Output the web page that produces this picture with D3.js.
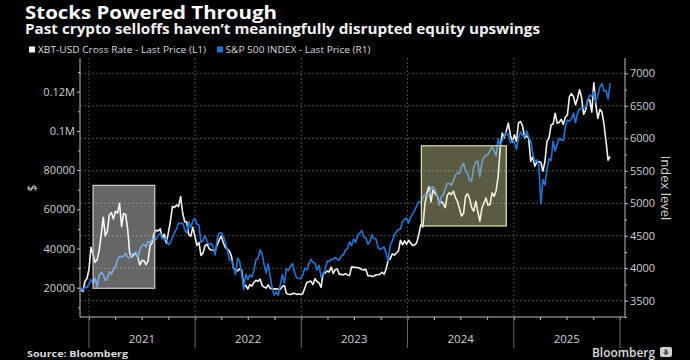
<!DOCTYPE html>
<html><head><meta charset="utf-8">
<script src="https://cdn.jsdelivr.net/npm/d3@7"></script>
<style>body{margin:0;background:#000}svg{display:block}</style>
</head><body>
<svg id="c" width="690" height="360"></svg>
<script>
// ---- DATA (weekly Friday closes, starting 2020-12-04) ----
const firstWeek = "2020-12-04";
const btc2020 = [19150, 18050, 23150, 24700];
const btc2021 = [29400, 40600, 36800, 33000, 34300, 38900, 47200, 55900, 46300, 48800, 57200, 58300, 55100,
  59000, 58100, 63000, 51100, 57800, 57400, 49700, 37500, 35700, 36900, 37300, 35600, 31600,
  33800, 33800, 31800, 33600, 41600, 42800, 47800, 49300, 49000, 50000, 45200, 47300, 42800,
  48200, 53900, 61500, 60900, 62200, 61400, 66500, 58100, 53700, 53600, 47100, 46200, 50800, 46300];
const btc2022 = [41600, 43100, 36500, 37700, 41400, 42200, 40000, 39200, 39100, 38800, 41800, 44500,
  46300, 42800, 40500, 39700, 38600, 36000, 30000, 29200, 28600, 29700, 29100, 20400, 21200,
  19300, 21600, 20800, 22700, 23800, 23200, 24400, 21200, 20300, 19800, 21400, 19700, 19300, 19400,
  19500, 19200, 19200, 20600, 21100, 17000, 16700, 16500, 17000, 17100, 16600, 16800, 16550];
const btc2023 = [16950, 19900, 22700, 23000, 23400, 21600, 24600, 23200, 22400, 20200, 27400, 27500, 28500,
  28000, 30500, 27300, 29300, 29500, 26800, 26900, 26500, 27200, 26500, 26300, 30700, 30500,
  30300, 30300, 29900, 29300, 29100, 29400, 26100, 26100, 25800, 25900, 26600, 26600, 26900,
  27900, 26900, 29700, 34100, 34700, 37300, 36600, 37700, 38700, 44200, 41900, 43900, 42100];
const btc2024 = [44200, 42800, 41600, 41800, 43000, 47100, 52100, 51000, 62400, 68300, 71500, 63800, 69900,
  67800, 67100, 63800, 64000, 62900, 60800, 67000, 68500, 67500, 69300, 66000, 64100, 60300,
  56600, 57900, 66700, 67900, 65400, 60900, 59000, 64100, 59000, 53900, 60500, 63200, 65800,
  62100, 62400, 68400, 66600, 69500, 76700, 91000, 98900, 96400, 99900, 104000, 97800, 94300];
const btc2025 = [98000, 94600, 104100, 104800, 102400, 96500, 97500, 96100, 84400, 86800, 82000, 84100, 84400,
  83900, 79500, 84500, 94700, 96500, 103000, 103500, 109000, 103900, 104400, 105900, 103300, 107100,
  108000, 117500, 119000, 117600, 113300, 116700, 121000, 116900, 108400, 110700, 116000, 115700, 109600,
  124500, 113200, 106400, 111000, 109600, 103300, 94600, 85100, 87000];

const spx2020 = [3699, 3663, 3709, 3703];
const spx2021 = [3756, 3825, 3768, 3841, 3714, 3887, 3934, 3907, 3811, 3842, 3943, 3913, 3975,
  4020, 4129, 4185, 4180, 4181, 4233, 4174, 4156, 4204, 4230, 4247, 4166, 4281,
  4352, 4370, 4327, 4412, 4395, 4437, 4468, 4442, 4509, 4535, 4459, 4433, 4455,
  4357, 4391, 4471, 4545, 4605, 4697, 4683, 4698, 4595, 4538, 4712, 4620, 4726, 4766];
const spx2022 = [4677, 4663, 4398, 4432, 4500, 4419, 4349, 4385, 4329, 4204, 4463, 4543,
  4546, 4488, 4392, 4272, 4132, 4123, 4023, 3901, 4158, 4109, 3901, 3675, 3912,
  3825, 3899, 3863, 3962, 4130, 4145, 4280, 4228, 4058, 3924, 4067, 3873, 3693, 3586,
  3640, 3583, 3752, 3901, 3771, 3993, 3965, 4026, 4072, 3934, 3852, 3845, 3840];
const spx2023 = [3895, 3999, 3973, 4071, 4136, 4090, 4079, 3970, 4046, 3862, 3917, 3971, 4109,
  4105, 4138, 4133, 4169, 4136, 4124, 4192, 4205, 4282, 4299, 4409, 4348, 4450,
  4399, 4505, 4536, 4582, 4478, 4464, 4370, 4406, 4515, 4457, 4450, 4320, 4288,
  4308, 4327, 4224, 4117, 4358, 4415, 4514, 4559, 4594, 4604, 4719, 4754, 4770];
const spx2024 = [4697, 4783, 4840, 4891, 4959, 5027, 5006, 5089, 5137, 5124, 5117, 5234, 5254,
  5204, 5123, 4967, 5100, 5128, 5223, 5303, 5305, 5278, 5347, 5431, 5465, 5460,
  5567, 5615, 5505, 5459, 5346, 5344, 5554, 5634, 5648, 5408, 5626, 5703, 5738,
  5751, 5815, 5865, 5808, 5729, 5995, 5870, 5969, 6032, 6090, 6051, 5931, 5970];
const spx2025 = [5942, 5827, 5997, 6101, 6041, 6026, 6115, 6013, 5955, 5770, 5639, 5667, 5581,
  4990, 5363, 5282, 5525, 5687, 5660, 5958, 5803, 5912, 6000, 5977, 5967, 6173,
  6279, 6260, 6297, 6389, 6238, 6389, 6450, 6467, 6460, 6482, 6584, 6664, 6644,
  6716, 6553, 6664, 6791, 6840, 6729, 6734, 6603, 6849];

const yearLabels = ["2021", "2022", "2023", "2024", "2025"];
const leftTicks = [20000, 40000, 60000, 80000, 100000, 120000];
const leftTickLabels = ["20000", "40000", "60000", "80000", "0.1M", "0.12M"];
const rightTicks = [3500, 4000, 4500, 5000, 5500, 6000, 6500, 7000];
// highlighted selloff windows [start, end, low $, high $]
const boxes = [
  {start: "2021-01-15", end: "2021-08-15", lo: 19700, hi: 72200, kind: "gray"},
  {start: "2024-02-18", end: "2024-12-06", lo: 51500, hi: 92400, kind: "yellow"}
];

// ---- BUILD ----
const parse = d3.timeParse("%Y-%m-%d");
const t0 = parse(firstWeek);
const btcVals = [].concat(btc2020, btc2021, btc2022, btc2023, btc2024, btc2025);
const spxVals = [].concat(spx2020, spx2021, spx2022, spx2023, spx2024, spx2025);
const btc = btcVals.map((v, i) => ({date: d3.timeDay.offset(t0, 7 * i), v}));
const spx = spxVals.map((v, i) => ({date: d3.timeDay.offset(t0, 7 * i), v}));

const svg = d3.select("#c");
svg.append("rect").attr("width", 690).attr("height", 360).attr("fill", "#000");

const L = 80, R = 625, T = 58, B = 317;
const x0 = d3.scaleTime().domain([new Date(2021, 0, 1), new Date(2026, 0, 1)]).range([89, 620]);
const x = d3.scaleTime().domain([x0.invert(L), x0.invert(R)]).range([L, R]);
const yL = d3.scaleLinear().domain([20000, 120000]).range([287.7, 91.7]);
const yR = d3.scaleLinear().domain([3500, 7000]).range([300.7, 73.3]);

const grid = "#4a4a4a";
// horizontal dashed gridlines
svg.append("g").selectAll("line").data(rightTicks).join("line")
  .attr("x1", L).attr("x2", R).attr("y1", d => yR(d)).attr("y2", d => yR(d))
  .attr("stroke", grid).attr("stroke-width", 1).attr("stroke-dasharray", "2,2");
// vertical dotted gridlines at year starts
const yearStarts = d3.range(2021, 2027).map(y => new Date(y, 0, 1));
svg.append("g").selectAll("line").data(yearStarts.slice(0, 5)).join("line")
  .attr("x1", d => x(d)).attr("x2", d => x(d)).attr("y1", T).attr("y2", B)
  .attr("stroke", grid).attr("stroke-width", 1).attr("stroke-dasharray", "2,2");

// lines
svg.append("clipPath").attr("id", "clip").append("rect")
  .attr("x", L).attr("y", T - 4).attr("width", R - L).attr("height", B - T + 4);
const gLines = svg.append("g").attr("clip-path", "url(#clip)");
gLines.append("path").datum(btc)
  .attr("d", d3.line().x(d => x(d.date)).y(d => yL(d.v)))
  .attr("fill", "none").attr("stroke", "#f2f2f2").attr("stroke-width", 1.6).attr("stroke-linejoin", "round");
gLines.append("path").datum(spx)
  .attr("d", d3.line().x(d => x(d.date)).y(d => yR(d.v)))
  .attr("fill", "none").attr("stroke", "#1f74d6").attr("stroke-width", 1.6).attr("stroke-linejoin", "round");

// highlight boxes
boxes.forEach(b => {
  const x1 = x(parse(b.start)), x2 = x(parse(b.end));
  const y1 = yL(b.hi), y2 = yL(b.lo);
  const gray = b.kind === "gray";
  svg.append("rect").attr("x", x1).attr("y", y1).attr("width", x2 - x1).attr("height", y2 - y1)
    .attr("fill", gray ? "#ffffff" : "#f0f0b0").attr("fill-opacity", gray ? 0.4 : 0.38)
    .attr("stroke", gray ? "#c4c4c4" : "#d6d6a6").attr("stroke-width", 1.3);
});

// axes
const tickCol = "#cfcfcf";
function styleAxis(g) {
  g.select(".domain").remove();
  g.selectAll("line").attr("stroke", "#bdbdbd");
  g.selectAll("text").attr("fill", tickCol).attr("font-family", "'Open Sans', 'DejaVu Sans', sans-serif").attr("font-size", 11);
}
// left
const gl = svg.append("g").attr("transform", `translate(${L},0)`)
  .call(d3.axisLeft(yL).tickValues(leftTicks).tickSize(3).tickPadding(2).tickFormat((d, i) => leftTickLabels[i]));
styleAxis(gl);
const glm = svg.append("g").attr("transform", `translate(${L},0)`)
  .call(d3.axisLeft(yL).tickValues(d3.range(10000, 140000, 20000).filter(v => yL(v) > T && yL(v) < B)).tickSize(2).tickFormat(""));
styleAxis(glm);
// right
const gr = svg.append("g").attr("transform", `translate(${R},0)`)
  .call(d3.axisRight(yR).tickValues(rightTicks).tickSize(3).tickPadding(2).tickFormat(d3.format("d")));
styleAxis(gr);
const grm = svg.append("g").attr("transform", `translate(${R},0)`)
  .call(d3.axisRight(yR).tickValues(d3.range(3250, 7250, 500).filter(v => yR(v) > T && yR(v) < B)).tickSize(2).tickFormat(""));
styleAxis(grm);
// bottom
const gb = svg.append("g").attr("transform", `translate(0,${B})`)
  .call(d3.axisBottom(x).ticks(d3.timeMonth.every(3)).tickSize(3).tickFormat(""));
styleAxis(gb);

// frame lines
svg.append("path").attr("d", `M${L},${T}V${B}H${R}V${T}`).attr("fill", "none").attr("stroke", "#bdbdbd").attr("stroke-width", 1);

// year separators and labels
svg.append("g").selectAll("line").data(yearStarts).join("line")
  .attr("x1", d => x(d)).attr("x2", d => x(d)).attr("y1", B).attr("y2", 348)
  .attr("stroke", "#6a6a6a").attr("stroke-width", 1);
svg.append("g").selectAll("text").data(yearLabels).join("text")
  .attr("x", d => x(new Date(+d, 6, 2))).attr("y", 343).attr("text-anchor", "middle")
  .attr("fill", tickCol).attr("font-family", "'Open Sans', 'DejaVu Sans', sans-serif").attr("font-size", 11.5).text(d => d);

// axis titles
svg.append("text").attr("transform", "translate(32,188) rotate(-90)").attr("text-anchor", "middle")
  .attr("dominant-baseline", "central")
  .attr("fill", tickCol).attr("font-family", "'Open Sans', 'DejaVu Sans', sans-serif").attr("font-size", 12).text("$");
svg.append("text").attr("transform", "translate(666,188) rotate(90)").attr("text-anchor", "middle")
  .attr("dominant-baseline", "central")
  .attr("fill", tickCol).attr("font-family", "'Open Sans', 'DejaVu Sans', sans-serif").attr("font-size", 13).text("Index level");

// titles
function fitText(sel, w) {
  const n = sel.node().getComputedTextLength();
  if (n > 0) sel.attr("textLength", w).attr("lengthAdjust", "spacingAndGlyphs");
  return sel;
}
fitText(svg.append("text").attr("x", 25).attr("y", 18.5).attr("fill", "#fff")
  .attr("font-family", "'Open Sans', sans-serif").attr("font-weight", 700).attr("font-size", 18)
  .text("Stocks Powered Through"), 252);
fitText(svg.append("text").attr("x", 25).attr("y", 34).attr("fill", "#f2f2f2")
  .attr("font-family", "'Open Sans', sans-serif").attr("font-weight", 700).attr("font-size", 13.5)
  .text("Past crypto selloffs haven\u2019t meaningfully disrupted equity upswings"), 515);

// legend
svg.append("rect").attr("x", 29).attr("y", 46.5).attr("width", 6).attr("height", 6).attr("fill", "#f2f2f2");
fitText(svg.append("text").attr("x", 38).attr("y", 52.5).attr("fill", "#d9d9d9")
  .attr("font-family", "'Open Sans', sans-serif").attr("font-size", 9.5)
  .text("XBT-USD Cross Rate - Last Price (L1)"), 168);
svg.append("rect").attr("x", 217).attr("y", 46.5).attr("width", 6).attr("height", 6).attr("fill", "#1f74d6");
fitText(svg.append("text").attr("x", 225.5).attr("y", 52.5).attr("fill", "#d9d9d9")
  .attr("font-family", "'Open Sans', sans-serif").attr("font-size", 9.5)
  .text("S&P 500 INDEX - Last Price (R1)"), 145);

// footer
fitText(svg.append("text").attr("x", 27).attr("y", 356.5).attr("fill", "#dcdcdc")
  .attr("font-family", "'Open Sans', sans-serif").attr("font-weight", 700).attr("font-size", 9.5)
  .text("Source: Bloomberg"), 101);
fitText(svg.append("text").attr("x", 592).attr("y", 357).attr("fill", "#dcdcdc")
  .attr("font-family", "'Open Sans', sans-serif").attr("font-weight", 600).attr("font-size", 12.5)
  .text("Bloomberg"), 63);
svg.append("rect").attr("x", 660).attr("y", 347).attr("width", 12).attr("height", 10).attr("rx", 2).attr("fill", "#d0d0d0");
svg.append("path").attr("d", "M664.5,349.5h3v3h1.5l-3,3l-3,-3h1.5z").attr("fill", "#555");
</script>
</body></html>
